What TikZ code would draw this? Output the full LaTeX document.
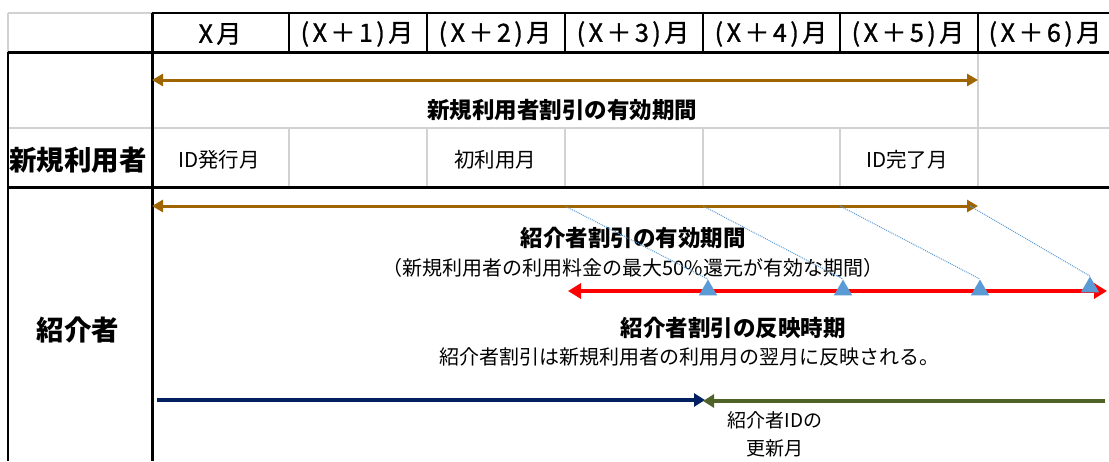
\documentclass[tikz,border=0pt]{standalone}
\usepackage{fontspec}
\setmainfont{Noto Sans CJK JP}
\newfontfamily\headfont[LetterSpace=14, FakeBold=1.2]{Noto Sans CJK JP}
\usepackage{tikz}
\usetikzlibrary{arrows.meta}
\usetikzlibrary{shapes.geometric}
\definecolor{termbrown}{RGB}{158,101,0}
\definecolor{reflectred}{RGB}{255,0,0}
\definecolor{markblue}{RGB}{91,155,213}
\definecolor{idnavy}{RGB}{0,32,96}
\definecolor{idgreen}{RGB}{79,98,40}
\definecolor{cellgray}{RGB}{210,210,210}
\tikzset{
thick rule/.style = {draw = black, line width = 3pt},
thin rule/.style = {draw = black, line width = 1.8pt},
cell rule/.style = {draw = cellgray, line width = 1.5pt},
month/.style = {font = \headfont\fontsize{25}{29}\selectfont, inner sep = 0pt},
side label/.style = {font = \bfseries\fontsize{27.5}{31}\selectfont, inner sep = 0pt},
cell label/.style = {font = \fontsize{20.5}{24}\selectfont, inner sep = 0pt},
title label/.style = {font = \bfseries\fontsize{22.5}{26}\selectfont, inner sep = 0pt},
note label/.style = {font = \fontsize{20}{24}\selectfont, inner sep = 0pt},
term arrow/.style = {draw = termbrown, line width = 3pt, {Triangle[length = 11pt, width = 12pt]}-{Triangle[length = 11pt, width = 12pt]}},
reflect arrow/.style = {draw = reflectred, line width = 4pt, {Triangle[length = 13pt, width = 15pt]}-{Triangle[length = 13pt, width = 15pt]}},
navy arrow/.style = {draw = idnavy, line width = 3.5pt, -{Triangle[length = 11pt, width = 13pt]}},
green arrow/.style = {draw = idgreen, line width = 3.5pt, -{Triangle[length = 11pt, width = 13pt]}},
markbox/.style = {regular polygon, regular polygon sides = 3, fill = markblue, draw = none, minimum size = 21pt, inner sep = 0pt},
guide/.style = {draw = markblue, line width = 1pt, densely dotted},
}

\begin{document}
\begin{tikzpicture}[x=1pt, y=-1pt]
      \useasboundingbox (0,0) rectangle (1109,461);
      % table rules
      \draw[cell rule] (8,13) -- (152,13);
      \draw[cell rule] (8,13) -- (8,52);
      \draw[cell rule] (8,128) -- (1109,128);
      \draw[cell rule] (978,52) -- (978,128);
      \draw[cell rule] (289,128) -- (289,187);
      \draw[cell rule] (427,128) -- (427,187);
      \draw[cell rule] (565,128) -- (565,187);
      \draw[cell rule] (703,128) -- (703,187);
      \draw[cell rule] (840,128) -- (840,187);
      \draw[cell rule] (978,128) -- (978,187);
      \draw[thin rule] (152,13) -- (1109,13);
      \draw[thin rule] (289,13) -- (289,52);
      \draw[thin rule] (427,13) -- (427,52);
      \draw[thin rule] (565,13) -- (565,52);
      \draw[thin rule] (703,13) -- (703,52);
      \draw[thin rule] (840,13) -- (840,52);
      \draw[thin rule] (978,13) -- (978,52);
      \draw[thin rule] (8,52) -- (8,461);
      \draw[thick rule] (8,52) -- (1109,52);
      \draw[thick rule] (8,187) -- (1109,187);
      \draw[thick rule] (152,13) -- (152,461);
      % months
      \begin{scope}[every node/.style={month}]
        \node (m0) at (220,34) {X月};
        \node (m1) at (357,34) {(X＋1)月};
        \node (m2) at (495,34) {(X＋2)月};
        \node (m3) at (633,34) {(X＋3)月};
        \node (m4) at (771,34) {(X＋4)月};
        \node (m5) at (908,34) {(X＋5)月};
        \node (m6) at (1045,34) {(X＋6)月};
      \end{scope}
      % row labels
      \node[side label] (newuser) at (78,160) {新規利用者};
      \node[side label] (referrer) at (78,330) {紹介者};
      \node[cell label] (issue) at (219,160) {ID発行月};
      \node[cell label] (firstuse) at (495,160) {初利用月};
      \node[cell label] (expire) at (907,160) {ID完了月};
      % new user period
      \coordinate (nl) at (152,80);
      \coordinate (nr) at (978,80);
      \draw[term arrow] (nl) -- (nr);
      \node[title label] (newterm) at (562,110) {新規利用者割引の有効期間};
      % referrer period
      \coordinate (rl) at (152,206);
      \coordinate (rr) at (978,206);
      \draw[term arrow] (rl) -- (rr);
      \node[title label] (refterm) at (633,238) {紹介者割引の有効期間};
      \node[note label] (refnote) at (633,268) {（新規利用者の利用料金の最大50\%還元が有効な期間）};
      % reflection
      \coordinate (fl) at (568,291);
      \coordinate (fr) at (1107,291);
      \draw[reflect arrow] (fl) -- (fr);
      \node[markbox] (t1) at (708,290) {};
      \node[markbox] (t2) at (843,290) {};
      \node[markbox] (t3) at (980,290) {};
      \node[markbox] (t4) at (1090,287) {};
      \coordinate (d1) at (565,206);
      \coordinate (d2) at (703,206);
      \coordinate (d3) at (840,206);
      \coordinate (d4) at (970,206);
      \draw[guide] (d1) -- (t1.corner 1);
      \draw[guide] (d2) -- (t2.corner 1);
      \draw[guide] (d3) -- (t3.corner 1);
      \draw[guide] (d4) -- (t4.corner 1);
      \node[title label] (reftime) at (733,328) {紹介者割引の反映時期};
      \node[note label] (timenote) at (689,357) {紹介者割引は新規利用者の利用月の翌月に反映される。};
      % referrer id
      \coordinate (al) at (157,400);
      \coordinate (am) at (705,400);
      \coordinate (bm) at (703,401);
      \coordinate (br) at (1105,401);
      \draw[navy arrow] (al) -- (am);
      \draw[green arrow] (br) -- (bm);
      \node[cell label, font=\fontsize{19}{28}\selectfont, align=center] (renew) at (775,434) {紹介者IDの\\更新月};
\end{tikzpicture}
\end{document}
